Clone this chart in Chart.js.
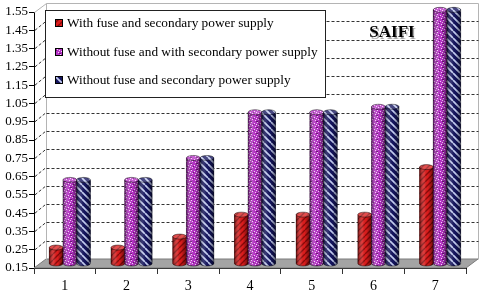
<!DOCTYPE html>
<html>
<head>
<meta charset="utf-8">
<title>SAIFI</title>
<script src="https://cdn.jsdelivr.net/npm/chart.js@4.4.1/dist/chart.umd.min.js"></script>
<style>
  html, body { margin: 0; padding: 0; background: #fff; }
  #chart { display: block; }
</style>
</head>
<body>
<canvas id="chart" width="480" height="299"></canvas>
<script>
// SAIFI for the 7 cases
const categories = ['1', '2', '3', '4', '5', '6', '7'];
const seriesNames = [
  'With fuse and secondary power supply',
  'Without fuse and with secondary power supply',
  'Without fuse and secondary power supply'
];
const withFuseAndSecondary = [0.24, 0.24, 0.30, 0.42, 0.42, 0.42, 0.68];
const noFuseWithSecondary = [0.61, 0.61, 0.73, 0.98, 0.98, 1.01, 1.54];
const noFuseNoSecondary = [0.61, 0.61, 0.73, 0.98, 0.98, 1.01, 1.54];
const yTicks = [0.15, 0.25, 0.35, 0.45, 0.55, 0.65, 0.75, 0.85, 0.95, 1.05, 1.15, 1.25, 1.35, 1.45, 1.55];

const SERIF = "'Liberation Serif', 'Times New Roman', serif";
const DX = 12, DY = -9;        // depth of the 3D box (back wall offset)
const BAR_DX = 5, BAR_DY = -4; // bars sit half way into the box

const canvas = document.getElementById('chart');
const ctx = canvas.getContext('2d');

function tile(s, draw) {
  const c = document.createElement('canvas');
  c.width = s; c.height = s;
  draw(c.getContext('2d'), s);
  return ctx.createPattern(c, 'repeat');
}

function stripes(s, bg, fg, w, dir) {
  return tile(s, (g) => {
    g.fillStyle = bg; g.fillRect(0, 0, s, s);
    g.strokeStyle = fg; g.lineWidth = w;
    for (let k = -1; k <= 1; k++) {
      g.beginPath();
      if (dir === '/') { g.moveTo(k * s, s); g.lineTo(k * s + s, 0); }
      else { g.moveTo(k * s, 0); g.lineTo(k * s + s, s); }
      g.stroke();
    }
  });
}

const redFill = stripes(6, '#dc1c1c', '#8a0808', 1.4, '/');
const blueFill = stripes(7, '#14145e', '#c4cdf2', 1.7, '\\');
const purpleFill = tile(6, (g, s) => {
  g.fillStyle = '#b634c6'; g.fillRect(0, 0, s, s);
  g.fillStyle = '#f7d3fa';
  [[0, 0], [3, 1], [1, 3], [4, 4], [5, 2]].forEach(p => g.fillRect(p[0], p[1], 1, 1));
  g.fillStyle = '#6e1478';
  [[2, 2], [5, 5], [0, 5]].forEach(p => g.fillRect(p[0], p[1], 1, 1));
});

const px = v => Math.round(v) + 0.5;

const box3d = {
  id: 'box3d',
  beforeDatasetsDraw(chart) {
    const { ctx, chartArea: a, scales: { y } } = chart;
    const top = y.getPixelForValue(y.max);
    ctx.save();
    // floor
    ctx.beginPath();
    ctx.moveTo(a.left, a.bottom);
    ctx.lineTo(a.right, a.bottom);
    ctx.lineTo(a.right + DX, a.bottom + DY);
    ctx.lineTo(a.left + DX, a.bottom + DY);
    ctx.closePath();
    ctx.fillStyle = '#a4a4a4';
    ctx.fill();
    ctx.strokeStyle = '#7a7a7a';
    ctx.lineWidth = 1;
    ctx.stroke();
    // walls
    ctx.strokeStyle = '#b4b4b4';
    ctx.beginPath();
    ctx.moveTo(px(a.left), px(top));
    ctx.lineTo(px(a.left + DX), px(top + DY));
    ctx.lineTo(px(a.right + DX), px(top + DY));
    ctx.lineTo(px(a.right + DX), px(a.bottom + DY));
    ctx.moveTo(px(a.left + DX), px(top + DY));
    ctx.lineTo(px(a.left + DX), px(a.bottom + DY));
    ctx.stroke();
    // dashed grid on the back wall and the side wall
    ctx.strokeStyle = '#333';
    ctx.setLineDash([3, 2]);
    yTicks.slice(1, -1).forEach(v => {
      const yy = y.getPixelForValue(v);
      ctx.beginPath();
      ctx.moveTo(px(a.left + DX), px(yy + DY));
      ctx.lineTo(px(a.right + DX), px(yy + DY));
      ctx.moveTo(a.left + 1, yy);
      ctx.lineTo(a.left + DX, yy + DY);
      ctx.stroke();
    });
    ctx.restore();
    ctx.save();
    ctx.translate(BAR_DX, BAR_DY);
  },
  afterDatasetsDraw(chart) {
    const ctx = chart.ctx;
    const ry = 2.5;
    chart.data.datasets.forEach((ds, i) => {
      chart.getDatasetMeta(i).data.forEach(el => {
        const { x, y, width, base } = el.getProps(['x', 'y', 'width', 'base'], true);
        const rx = width / 2, l = x - rx, r = x + rx;
        ctx.beginPath();
        ctx.moveTo(l, y);
        ctx.lineTo(l, base);
        ctx.ellipse(x, base, rx, ry, 0, Math.PI, 0, true);
        ctx.lineTo(r, y);
        ctx.closePath();
        ctx.fillStyle = ds.backgroundColor;
        ctx.fill();
        const g = ctx.createLinearGradient(l, 0, r, 0);
        g.addColorStop(0, 'rgba(0,0,0,0.45)');
        g.addColorStop(0.35, 'rgba(255,255,255,0.12)');
        g.addColorStop(0.6, 'rgba(0,0,0,0)');
        g.addColorStop(1, 'rgba(0,0,0,0.5)');
        ctx.fillStyle = g;
        ctx.fill();
        ctx.strokeStyle = 'rgba(0,0,0,0.55)';
        ctx.lineWidth = 0.8;
        ctx.stroke();
        // top cap
        ctx.beginPath();
        ctx.ellipse(x, y, rx, ry, 0, 0, Math.PI * 2);
        ctx.fillStyle = ds.backgroundColor;
        ctx.fill();
        ctx.fillStyle = 'rgba(255,255,255,0.22)';
        ctx.fill();
        ctx.stroke();
      });
    });
    ctx.restore();
  },
  afterDraw(chart) {
    const ctx = chart.ctx;
    ctx.save();
    // legend box
    ctx.fillStyle = '#fff';
    ctx.fillRect(45.5, 10.5, 280, 87);
    ctx.strokeStyle = '#222';
    ctx.lineWidth = 1;
    ctx.strokeRect(45.5, 10.5, 280, 87);
    ctx.font = '13.3px ' + SERIF;
    ctx.textBaseline = 'middle';
    chart.data.datasets.forEach((ds, i) => {
      const cy = Math.round(23 + i * 28.5);
      ctx.fillStyle = ds.backgroundColor;
      ctx.fillRect(55, cy - 4, 8, 8);
      ctx.strokeStyle = '#000';
      ctx.strokeRect(55.5, cy - 3.5, 7, 7);
      ctx.fillStyle = '#000';
      ctx.fillText(ds.label, 67, cy + 1);
    });
    // title
    ctx.font = 'bold 17px ' + SERIF;
    ctx.textAlign = 'center';
    ctx.fillStyle = 'rgba(0,0,0,0.35)';
    ctx.fillText('SAIFI', 393.5, 34.5);
    ctx.fillStyle = '#000';
    ctx.fillText('SAIFI', 392, 33);
    ctx.restore();
  }
};

new Chart(ctx, {
  type: 'bar',
  data: {
    labels: categories,
    datasets: [
      { label: seriesNames[0], data: withFuseAndSecondary, backgroundColor: redFill },
      { label: seriesNames[1], data: noFuseWithSecondary, backgroundColor: purpleFill },
      { label: seriesNames[2], data: noFuseNoSecondary, backgroundColor: blueFill }
    ]
  },
  options: {
    responsive: false,
    animation: false,
    layout: { padding: { top: 12, right: 14, left: 0, bottom: 0 } },
    datasets: {
      bar: { base: yTicks[0], categoryPercentage: 0.665, barPercentage: 1, borderWidth: 0, clip: false }
    },
    plugins: {
      legend: { display: false },
      tooltip: { enabled: false },
      title: { display: false }
    },
    scales: {
      x: {
        offset: true,
        grid: { offset: true, drawOnChartArea: false, drawTicks: true, tickLength: 6, tickColor: '#333' },
        border: { color: '#000' },
        ticks: { color: '#000', font: { family: SERIF, size: 14 }, padding: 4 },
        afterFit(scale) { scale.height = 31; }
      },
      y: {
        min: 0.15,
        max: 1.55,
        beginAtZero: false,
        afterBuildTicks(scale) { scale.ticks = yTicks.map(v => ({ value: v })); },
        grid: { drawOnChartArea: false, drawTicks: true, tickLength: 5, tickColor: '#000' },
        border: { color: '#000' },
        ticks: {
          autoSkip: false,
          color: '#000',
          padding: 1,
          font: { family: SERIF, size: 13 },
          callback: v => v.toFixed(2)
        },
        afterFit(scale) { scale.width = 34; }
      }
    }
  },
  plugins: [box3d]
});
</script>
</body>
</html>
